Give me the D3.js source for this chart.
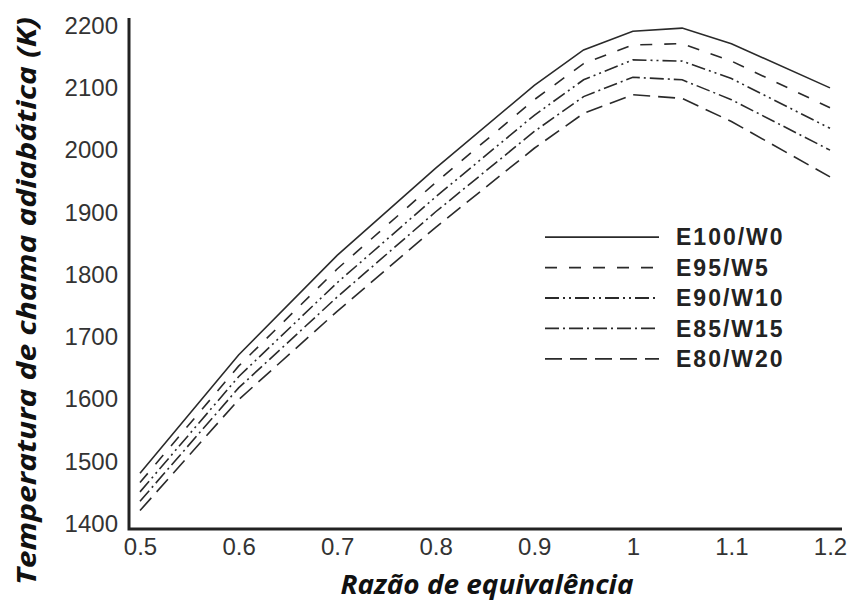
<!DOCTYPE html>
<html>
<head>
<meta charset="utf-8">
<script src="https://cdn.jsdelivr.net/npm/d3@7"></script>
<style>
  html, body { margin: 0; padding: 0; background: #fff; }
  svg { display: block; }
</style>
</head>
<body>
<svg id="chart" width="849" height="603"></svg>
<script>
// ---- Data ----
const phi = [0.5, 0.6, 0.7, 0.8, 0.9, 0.95, 1.0, 1.05, 1.1, 1.2];
const E100_W0  = [1480, 1670, 1830, 1970, 2103, 2160, 2190, 2195, 2170, 2099];
const E95_W5   = [1465, 1652, 1808, 1947, 2080, 2138, 2168, 2170, 2142, 2067];
const E90_W10  = [1450, 1635, 1786, 1924, 2055, 2112, 2144, 2142, 2114, 2034];
const E85_W15  = [1435, 1617, 1763, 1900, 2029, 2085, 2116, 2112, 2080, 1999];
const E80_W20  = [1420, 1598, 1740, 1875, 2002, 2058, 2088, 2082, 2045, 1956];
const seriesNames = ["E100/W0", "E95/W5", "E90/W10", "E85/W15", "E80/W20"];
const xTicks = [0.5, 0.6, 0.7, 0.8, 0.9, 1, 1.1, 1.2];
const yTicks = [1400, 1500, 1600, 1700, 1800, 1900, 2000, 2100, 2200];
const xTitle = "Razão de equivalência";
const yTitle = "Temperatura de chama adiabática (K)";

const seriesValues = [E100_W0, E95_W5, E90_W10, E85_W15, E80_W20];
const dashes = ["none", "12,12", "14,4,2,4,2,4", "14,4,2,4", "17,8"];

const svg = d3.select("#chart");
const x = d3.scaleLinear().domain([0.5, 1.2]).range([140, 830]);
const y = d3.scaleLinear().domain([1400, 2200]).range([523, 25]);

const axisColor = "#222";
const xMin = x.invert(129), xMax = x.invert(842);
const yMin = y.invert(529), yMax = y.invert(18);

// Axis lines (left and bottom only)
svg.append("path")
  .attr("d", `M${x(xMin)},${y(yMax)} L${x(xMin)},${y(yMin)} L${x(xMax)},${y(yMin)}`)
  .attr("fill", "none").attr("stroke", axisColor).attr("stroke-width", 3)
  .attr("stroke-linejoin", "miter");

// Tick labels via axes
const yAxis = d3.axisLeft(y).tickValues(yTicks).tickSize(0).tickPadding(0).tickFormat(d3.format("d"));
const gy = svg.append("g").attr("transform", "translate(118,0)").call(yAxis);
gy.select(".domain").remove();
gy.selectAll("text").attr("font-family", "Liberation Sans, Arial, sans-serif")
  .attr("font-size", 24).attr("fill", "#333").attr("dy", "0.35em");

const xAxis = d3.axisBottom(x).tickValues(xTicks).tickSize(0).tickPadding(0).tickFormat(d => d3.format("")(d));
const gx = svg.append("g").attr("transform", "translate(0,537)").call(xAxis);
gx.select(".domain").remove();
gx.selectAll("text").attr("font-family", "Liberation Sans, Arial, sans-serif")
  .attr("font-size", 24).attr("fill", "#333").attr("dy", "0.75em");

// Lines
const line = d3.line().x((d, i) => x(phi[i])).y(d => y(d));
seriesValues.forEach((vals, k) => {
  svg.append("path")
    .datum(vals)
    .attr("d", line)
    .attr("fill", "none")
    .attr("stroke", "#2a2a2a")
    .attr("stroke-width", 1.6)
    .attr("stroke-dasharray", dashes[k]);
});

// Legend
const legend = svg.append("g");
const legY = d3.scaleBand().domain(seriesNames).range([222, 374]);
seriesNames.forEach((name, k) => {
  const yy = legY(name) + legY.bandwidth() / 2;
  legend.append("line")
    .attr("x1", 545).attr("x2", 659).attr("y1", yy).attr("y2", yy)
    .attr("stroke", "#2a2a2a").attr("stroke-width", 1.8)
    .attr("stroke-dasharray", dashes[k]);
  legend.append("text")
    .attr("x", 676).attr("y", yy).attr("dy", "0.36em")
    .attr("font-family", "Liberation Sans, Arial, sans-serif")
    .attr("font-weight", "bold").attr("font-size", 23)
    .attr("letter-spacing", 2)
    .attr("fill", "#222")
    .text(name);
});

// Axis titles
svg.append("text")
  .attr("x", 487).attr("y", 594)
  .attr("text-anchor", "middle")
  .attr("font-family", "Open Sans, sans-serif")
  .attr("font-weight", "bold").attr("font-style", "italic")
  .attr("font-size", 27).attr("fill", "#111")
  .attr("textLength", 293).attr("lengthAdjust", "spacingAndGlyphs")
  .text(xTitle);

svg.append("text")
  .attr("transform", "translate(36,301) rotate(-90)")
  .attr("text-anchor", "middle")
  .attr("font-family", "Open Sans, sans-serif")
  .attr("font-weight", "bold").attr("font-style", "italic")
  .attr("font-size", 27).attr("fill", "#111")
  .attr("textLength", 568).attr("lengthAdjust", "spacingAndGlyphs")
  .text(yTitle);
</script>
</body>
</html>
